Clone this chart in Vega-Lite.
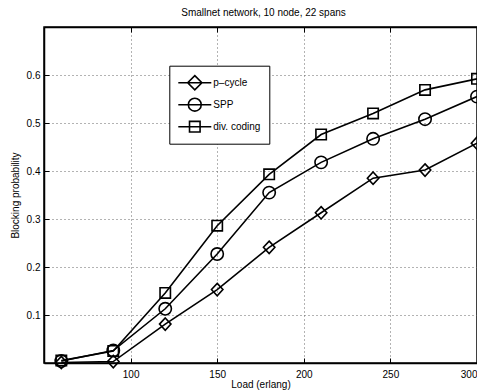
{
  "$schema": "https://vega.github.io/schema/vega-lite/v6.json",
  "autosize": {"type": "none"},
  "padding": {"left": 44, "top": 27, "right": 0, "bottom": 29},
  "width": 433,
  "height": 336,
  "background": "white",
  "title": {"text": "Smallnet network, 10 node, 22 spans", "font": "Liberation Sans", "fontSize": 10, "fontWeight": "normal", "color": "black", "offset": 9, "dx": 3},
  "config": {
    "view": {"stroke": "black", "strokeWidth": 1.5},
    "axis": {"domainColor": "black", "domainWidth": 1.5, "tickColor": "black", "tickWidth": 1, "tickSize": -5, "labelFont": "Liberation Sans", "labelFontSize": 10, "labelColor": "black", "titleFont": "Liberation Sans", "titleFontSize": 10, "titleFontWeight": "normal", "titleColor": "black", "gridColor": "#666", "gridDash": [1, 3], "gridWidth": 1, "gridOpacity": 1}
  },
  "data": {"values": [
    {"series": "p–cycle", "load": 60, "prob": 0.001},
    {"series": "p–cycle", "load": 90, "prob": 0.003},
    {"series": "p–cycle", "load": 120, "prob": 0.081},
    {"series": "p–cycle", "load": 150, "prob": 0.153},
    {"series": "p–cycle", "load": 180, "prob": 0.241},
    {"series": "p–cycle", "load": 210, "prob": 0.313},
    {"series": "p–cycle", "load": 240, "prob": 0.385},
    {"series": "p–cycle", "load": 270, "prob": 0.402},
    {"series": "p–cycle", "load": 300, "prob": 0.458},
    {"series": "SPP", "load": 60, "prob": 0.004},
    {"series": "SPP", "load": 90, "prob": 0.026},
    {"series": "SPP", "load": 120, "prob": 0.113},
    {"series": "SPP", "load": 150, "prob": 0.227},
    {"series": "SPP", "load": 180, "prob": 0.355},
    {"series": "SPP", "load": 210, "prob": 0.418},
    {"series": "SPP", "load": 240, "prob": 0.467},
    {"series": "SPP", "load": 270, "prob": 0.508},
    {"series": "SPP", "load": 300, "prob": 0.555},
    {"series": "div. coding", "load": 60, "prob": 0.005},
    {"series": "div. coding", "load": 90, "prob": 0.025},
    {"series": "div. coding", "load": 120, "prob": 0.146},
    {"series": "div. coding", "load": 150, "prob": 0.286},
    {"series": "div. coding", "load": 180, "prob": 0.393},
    {"series": "div. coding", "load": 210, "prob": 0.476},
    {"series": "div. coding", "load": 240, "prob": 0.520},
    {"series": "div. coding", "load": 270, "prob": 0.569},
    {"series": "div. coding", "load": 300, "prob": 0.592}
  ]},
  "layer": [
    {
      "mark": {"type": "line", "color": "black", "strokeWidth": 1.6},
      "encoding": {
        "x": {"field": "load", "type": "quantitative", "scale": {"domain": [50, 300], "nice": false, "zero": false},
              "axis": {"orient": "bottom", "values": [100, 150, 200, 250, 300], "grid": true, "title": "Load (erlang)", "labelPadding": 11, "titlePadding": 0}},
        "y": {"field": "prob", "type": "quantitative", "scale": {"domain": [0, 0.7], "nice": false},
              "axis": {"orient": "left", "values": [0.1, 0.2, 0.3, 0.4, 0.5, 0.6], "grid": true, "title": "Blocking probability", "labelPadding": 9, "titlePadding": 6}},
        "detail": {"field": "series", "type": "nominal"}
      }
    },
    {
      "mark": {"type": "point", "filled": false, "stroke": "black", "strokeWidth": 1.6, "size": 169, "opacity": 1},
      "encoding": {
        "x": {"field": "load", "type": "quantitative",
              "axis": {"orient": "top", "values": [100, 150, 200, 250, 300], "grid": false, "labels": false, "title": null}},
        "y": {"field": "prob", "type": "quantitative"},
        "shape": {"field": "series", "type": "nominal",
          "scale": {"domain": ["p–cycle", "SPP", "div. coding"], "range": ["M0,-0.95L0.88,0L0,0.95L-0.88,0Z", "M-0.95,0A0.95,0.95,0,1,0,0.95,0A0.95,0.95,0,1,0,-0.95,0Z", "M-0.8,-0.8H0.8V0.8H-0.8Z"]},
          "legend": null
        }
      }
    },
    {
      "transform": [{"filter": "datum.load < 0"}],
      "mark": {"type": "point", "filled": false, "stroke": "black", "strokeWidth": 1.6, "size": 1089, "opacity": 1},
      "encoding": {
        "x": {"field": "load", "type": "quantitative", "axis": null},
        "y": {"field": "prob", "type": "quantitative"},
        "shape": {"field": "series", "type": "nominal",
          "scale": {"domain": ["p–cycle", "SPP", "div. coding"], "range": ["M-1,0H1M0,-0.43L0.43,0L0,0.43L-0.43,0Z", "M-1,0H1M-0.39,0A0.39,0.39,0,1,0,0.39,0A0.39,0.39,0,1,0,-0.39,0Z", "M-1,0H1M-0.32,-0.32H0.32V0.32H-0.32Z"]},
          "legend": {
            "orient": "none", "legendX": 125.3, "legendY": 38.7, "title": null,
            "strokeColor": "black", "fillColor": "white", "padding": 8,
            "symbolSize": 1089, "symbolStrokeWidth": 1.6, "symbolStrokeColor": "black", "symbolFillColor": "transparent",
            "labelFont": "Liberation Sans", "labelFontSize": 10, "labelColor": "black", "labelOffset": 1, "rowPadding": 4, "clipHeight": 18
          }
        }
      }
    }
  ],
  "resolve": {"axis": {"x": "independent"}, "scale": {"shape": "independent"}}
}
